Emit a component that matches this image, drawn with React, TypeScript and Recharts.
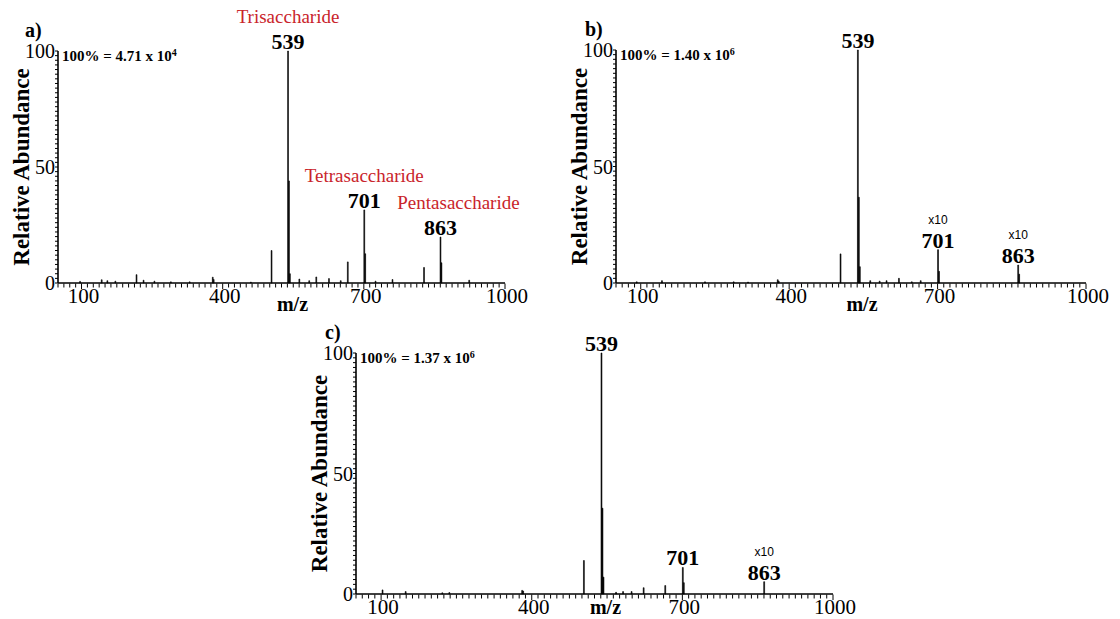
import { BarChart, Bar, XAxis, YAxis, LabelList } from "recharts";

const SERIF = "'Liberation Serif', 'Times New Roman', serif";
const SANS = "'Liberation Sans', Arial, sans-serif";
const RED = "#c9242b";

const MZ_DOMAIN = [50, 1000];
const MZ_LABELS = [100, 400, 700, 1000];
const ABUND_LABELS = [0, 50, 100];
// minor tick marks, 24 per 300 m/z
const MZ_TICKS = Array.from({ length: 77 }, (_, i) => 50 + i * 12.5);
const ABUND_TICKS = Array.from({ length: 51 }, (_, i) => i * 2);

// a) spectrum
const A_MZ = [97, 143, 155, 172, 217, 232, 255, 290, 330, 379, 381, 460, 504, 539, 541, 543, 563, 584, 599, 626, 651, 666, 701, 703, 725, 761, 828, 863, 865, 924];
const A_ABUND = [0.7, 1.4, 1.0, 0.8, 3.6, 1.2, 0.8, 0.5, 0.5, 2.5, 1.5, 0.4, 14, 100, 44, 4, 1.7, 1, 2.6, 1.9, 1, 9.1, 31.5, 12.6, 0.8, 1.5, 6.7, 19.8, 8.7, 1.2];
const A_NAMES: Record<number, string> = { 539: "Trisaccharide", 701: "Tetrasaccharide", 863: "Pentasaccharide" };

// b) spectrum
const B_MZ = [92, 143, 230, 288, 317, 377, 379, 504, 539, 541, 543, 564, 583, 597, 622, 648, 666, 701, 703, 863, 865];
const B_ABUND = [0.5, 1.0, 0.5, 0.5, 0.4, 1.4, 0.8, 12.5, 100, 36.8, 7, 1, 0.8, 1, 2, 0.5, 1, 14.3, 5, 7.7, 3.8];
const B_NOTES: Record<number, string> = { 701: "x10", 863: "x10" };

// c) spectrum
const C_MZ = [103, 149, 222, 236, 381, 383, 504, 539, 541, 543, 568, 582, 599, 623, 666, 701, 703, 863];
const C_ABUND = [1.7, 1, 0.5, 0.6, 1.5, 1.2, 13.9, 100, 35.6, 7, 0.7, 1, 1, 2.6, 3.5, 11, 4.7, 5.1];
const C_NOTES: Record<number, string> = { 863: "x10" };

const TAGGED = [539, 701, 863];
const NAME_SHIFT: Record<number, number> = { 863: 18 };

type Row = { mz: number; ab: number; tag?: string; name?: string; note?: string };

const buildRows = (mz: number[], ab: number[], names: Record<number, string> = {}, notes: Record<number, string> = {}): Row[] =>
  mz.map((m, i) => ({
    mz: m,
    ab: ab[i],
    tag: TAGGED.includes(m) ? String(m) : undefined,
    name: names[m],
    note: notes[m],
  }));

const MzTick = (props: any) => {
  const { x, y, payload } = props;
  const major = MZ_LABELS.includes(payload.value);
  return (
    <g>
      <line x1={x} x2={x} y1={y + 0.5} y2={y + (major ? 6 : 4.5)} stroke="#000" strokeWidth={1} />
      {major && (
        <text x={x + 2} y={y + 20} textAnchor="middle" fontSize={21} fontFamily={SERIF} fill="#000">
          {payload.value}
        </text>
      )}
    </g>
  );
};

const AbundTick = (props: any) => {
  const { x, y, payload } = props;
  const major = ABUND_LABELS.includes(payload.value);
  return (
    <g>
      <line x1={x - 3} x2={x} y1={y} y2={y} stroke="#000" strokeWidth={1} />
      {major && (
        <text x={x - 3} y={y + 7} textAnchor="end" fontSize={20} fontFamily={SERIF} fill="#000">
          {payload.value}
        </text>
      )}
    </g>
  );
};

const peakLabel = (rows: Row[]) => (props: any) => {
  const { x, y, width, value } = props;
  if (!value) return null;
  const row = rows.find((r) => r.tag === value);
  if (!row) return null;
  const cx = Number(x) + Number(width) / 2;
  const top = Number(y);
  return (
    <g>
      {row.name && (
        <text x={cx + (NAME_SHIFT[row.mz] || 0)} y={top - 28} textAnchor="middle" fontSize={19} fontFamily={SERIF} fill={RED}>
          {row.name}
        </text>
      )}
      {row.note && (
        <text x={cx} y={top - 26} textAnchor="middle" fontSize={12} fontFamily={SANS} fill="#000">
          {row.note}
        </text>
      )}
      <text x={cx} y={top - 2} textAnchor="middle" fontSize={22} fontWeight="bold" fontFamily={SERIF} fill="#000">
        {row.tag}
      </text>
    </g>
  );
};

type PanelProps = {
  rows: Row[];
  letter: string;
  base: string;
  exp: string;
  left: number;
  top: number;
  width: number;
  height: number;
  yAxisWidth: number;
  marginTop: number;
  marginRight: number;
  xAxisHeight: number;
  xLabelDy: number;
};

const Panel = (p: PanelProps) => (
  <div style={{ position: "absolute", left: p.left, top: p.top, width: p.width, height: p.height }}>
    <BarChart
      width={p.width}
      height={p.height}
      data={p.rows}
      margin={{ top: p.marginTop, right: p.marginRight, left: 0, bottom: 0 }}
    >
      <XAxis
        type="number"
        dataKey="mz"
        scale="linear"
        domain={MZ_DOMAIN}
        allowDataOverflow
        ticks={MZ_TICKS}
        interval={0}
        tickSize={0}
        tickMargin={0}
        tick={<MzTick />}
        height={p.xAxisHeight}
        axisLine={{ stroke: "#000", strokeWidth: 1.6 }}
        tickLine={false}
        label={{
          content: (lp: any) => {
            const vb = lp.viewBox;
            return (
              <text x={vb.x + vb.width / 2 + 11} y={vb.y + p.xLabelDy} textAnchor="middle" fontSize={20} fontWeight="bold" fontFamily={SERIF} fill="#000">
                m/z
              </text>
            );
          },
        }}
      />
      <YAxis
        type="number"
        domain={[0, 100]}
        ticks={ABUND_TICKS}
        interval={0}
        tickSize={0}
        tickMargin={0}
        tick={<AbundTick />}
        width={p.yAxisWidth}
        axisLine={{ stroke: "#000", strokeWidth: 1.6 }}
        tickLine={false}
        label={{
          content: (lp: any) => {
            const vb = lp.viewBox;
            const lx = vb.x + vb.width - 37;
            const ly = vb.y + vb.height / 2;
            return (
              <text x={lx} y={ly} transform={`rotate(-90 ${lx} ${ly})`} textAnchor="middle" dominantBaseline="central" fontSize={23} fontWeight="bold" fontFamily={SERIF} fill="#000">
                Relative Abundance
              </text>
            );
          },
        }}
      />
      <Bar dataKey="ab" fill="#000" stroke="#000" strokeWidth={0.6} barSize={2} isAnimationActive={false}>
        <LabelList dataKey="tag" content={peakLabel(p.rows)} />
      </Bar>
    </BarChart>
    <svg width={p.width} height={p.height} style={{ position: "absolute", left: 0, top: 0, pointerEvents: "none" }}>
      <text x={25} y={p.marginTop - 14} fontSize={20} fontWeight="bold" fontFamily={SERIF} fill="#000">
        {p.letter}
      </text>
      <text x={p.yAxisWidth + 4} y={p.marginTop + 10} fontSize={15} fontWeight="bold" fontFamily={SERIF} fill="#000">
        {`100% = ${p.base} x 10`}
        <tspan dy={-5} fontSize={10}>{p.exp}</tspan>
      </text>
    </svg>
  </div>
);

export default function App() {
  const rowsA = buildRows(A_MZ, A_ABUND, A_NAMES);
  const rowsB = buildRows(B_MZ, B_ABUND, {}, B_NOTES);
  const rowsC = buildRows(C_MZ, C_ABUND, {}, C_NOTES);
  return (
    <div style={{ position: "absolute", left: 0, top: 0, width: 1120, height: 619, background: "#fff", overflow: "hidden" }}>
      <Panel rows={rowsA} letter="a)" base="4.71" exp="4" left={0} top={0} width={540} height={320} yAxisWidth={58} marginTop={51} marginRight={35} xAxisHeight={37} xLabelDy={28} />
      <Panel rows={rowsB} letter="b)" base="1.40" exp="6" left={560} top={0} width={560} height={320} yAxisWidth={56} marginTop={50} marginRight={34} xAxisHeight={37} xLabelDy={28} />
      <Panel rows={rowsC} letter="c)" base="1.37" exp="6" left={300} top={310} width={560} height={309} yAxisWidth={56} marginTop={43} marginRight={27} xAxisHeight={25} xLabelDy={20} />
    </div>
  );
}
